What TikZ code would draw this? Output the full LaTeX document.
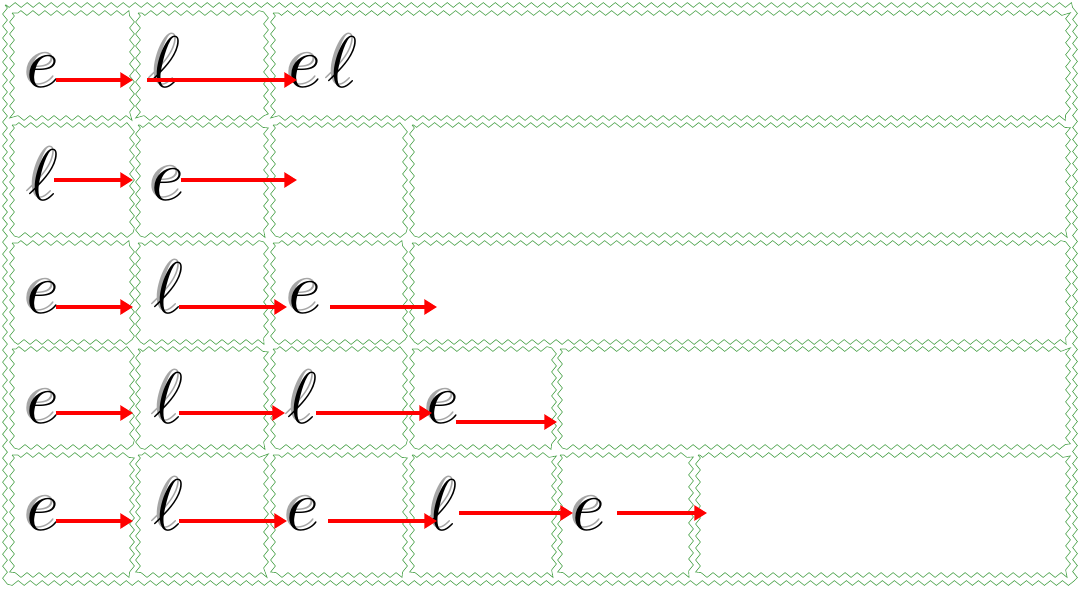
\RequirePackage{fix-cm}
\documentclass[tikz,border=0pt]{standalone}
\usetikzlibrary{arrows.meta, decorations.pathmorphing}
\definecolor{zig}{RGB}{80,165,80}

% handwritten letter with its grey pen shadow, in one node
\newcommand{\penletter}[1]{\rlap{\kern-1.8pt\raisebox{1.8pt}{\color{black!35}$#1$}}$#1$}
\newcommand{\cletter}[4]{%
  \node[letter] (#1) at (#2,#3) {\penletter{#4}};}

\begin{document}
\begin{tikzpicture}[
    x=0.025cm, y=-0.025cm,
    zigcell/.style={draw=zig, line width=0.45pt, decorate,
                decoration={zigzag, segment length=0.3cm, amplitude=0.06cm}},
    letter/.style={anchor=base west, inner sep=0pt, text height=40pt,
                text depth=30pt, font=\fontsize{52}{52}\selectfont},
    redarrow/.style={draw=red, line width=2.9pt,
                -{Triangle[length=9pt, width=10.5pt]}},
]
\useasboundingbox (0,0) rectangle (1080,588);
\draw[zigcell] (5,5) rectangle (1075,583);
% cells, row by row
\foreach \xa/\xb in {12/132, 138/266, 273/1068}
    \draw[zigcell] (\xa,13) rectangle (\xb,118);
\foreach \xa/\xb in {12/132, 138/266, 273/405, 412/1068}
    \draw[zigcell] (\xa,125) rectangle (\xb,235);
\foreach \xa/\xb in {12/132, 138/266, 273/405, 412/1068}
    \draw[zigcell] (\xa,243) rectangle (\xb,342);
\foreach \xa/\xb in {12/132, 138/266, 273/405, 412/554, 560/1068}
    \draw[zigcell] (\xa,349) rectangle (\xb,447);
\foreach \xa/\xb in {12/132, 138/266, 273/405, 412/554, 560/691, 698/1068}
    \draw[zigcell] (\xa,455) rectangle (\xb,575);

% letters
\cletter{r1a}{26}{87}{e}
\cletter{r1b}{150}{87}{\ell}
\cletter{r1c}{288}{87}{e\mkern1.5mu\ell}
\cletter{r2a}{28}{200}{\ell}
\cletter{r2b}{151}{200}{e}
\cletter{r3a}{26}{313}{e}
\cletter{r3b}{153}{313}{\ell}
\cletter{r3c}{288}{313}{e}
\cletter{r4a}{26}{423}{e}
\cletter{r4b}{153}{423}{\ell}
\cletter{r4c}{287}{423}{\ell}
\cletter{r4d}{426}{423}{e}
\cletter{r5a}{26}{530}{e}
\cletter{r5b}{153}{530}{\ell}
\cletter{r5c}{286}{530}{e}
\cletter{r5d}{427}{530}{\ell}
\cletter{r5e}{572}{530}{e}

% free arrow ends
\coordinate (t1a) at (133,80);
\coordinate (t1b) at (297,80);
\coordinate (t2a) at (133,180);
\coordinate (t2b) at (297,180);
\coordinate (t3a) at (133,307);
\coordinate (t3b) at (287,307);
\coordinate (t3c) at (437,307);
\coordinate (t4a) at (133,413);
\coordinate (t4b) at (285,413);
\coordinate (t4c) at (432,413);
\coordinate (t4d) at (557,422);
\coordinate (t5a) at (133,521);
\coordinate (t5b) at (287,521);
\coordinate (t5c) at (437,521);
\coordinate (t5d) at (573,513);
\coordinate (t5e) at (707,513);

% arrows
\draw[redarrow] ([xshift=-3pt]r1a.east |- t1a) -- (t1a);
\draw[redarrow] ([xshift=-2pt]r1b.west |- t1b) -- (t1b);
\draw[redarrow] ([xshift=-3pt]r2a.east |- t2a) -- (t2a);
\draw[redarrow] ([xshift=-3pt]r2b.east |- t2b) -- (t2b);
\draw[redarrow] ([xshift=-3pt]r3a.east |- t3a) -- (t3a);
\draw[redarrow] ([xshift=-3pt]r3b.east |- t3b) -- (t3b);
\draw[redarrow] ([xshift=6pt]r3c.east |- t3c) -- (t3c);
\draw[redarrow] ([xshift=-3pt]r4a.east |- t4a) -- (t4a);
\draw[redarrow] ([xshift=-3pt]r4b.east |- t4b) -- (t4b);
\draw[redarrow] ([xshift=-1pt]r4c.east |- t4c) -- (t4c);
\draw[redarrow] ([xshift=-3pt]r4d.east |- t4d) -- (t4d);
\draw[redarrow] ([xshift=-3pt]r5a.east |- t5a) -- (t5a);
\draw[redarrow] ([xshift=-3pt]r5b.east |- t5b) -- (t5b);
\draw[redarrow] ([xshift=6pt]r5c.east |- t5c) -- (t5c);
\draw[redarrow] ([xshift=1pt]r5d.east |- t5d) -- (t5d);
\draw[redarrow] ([xshift=8pt]r5e.east |- t5e) -- (t5e);
\end{tikzpicture}
\end{document}
